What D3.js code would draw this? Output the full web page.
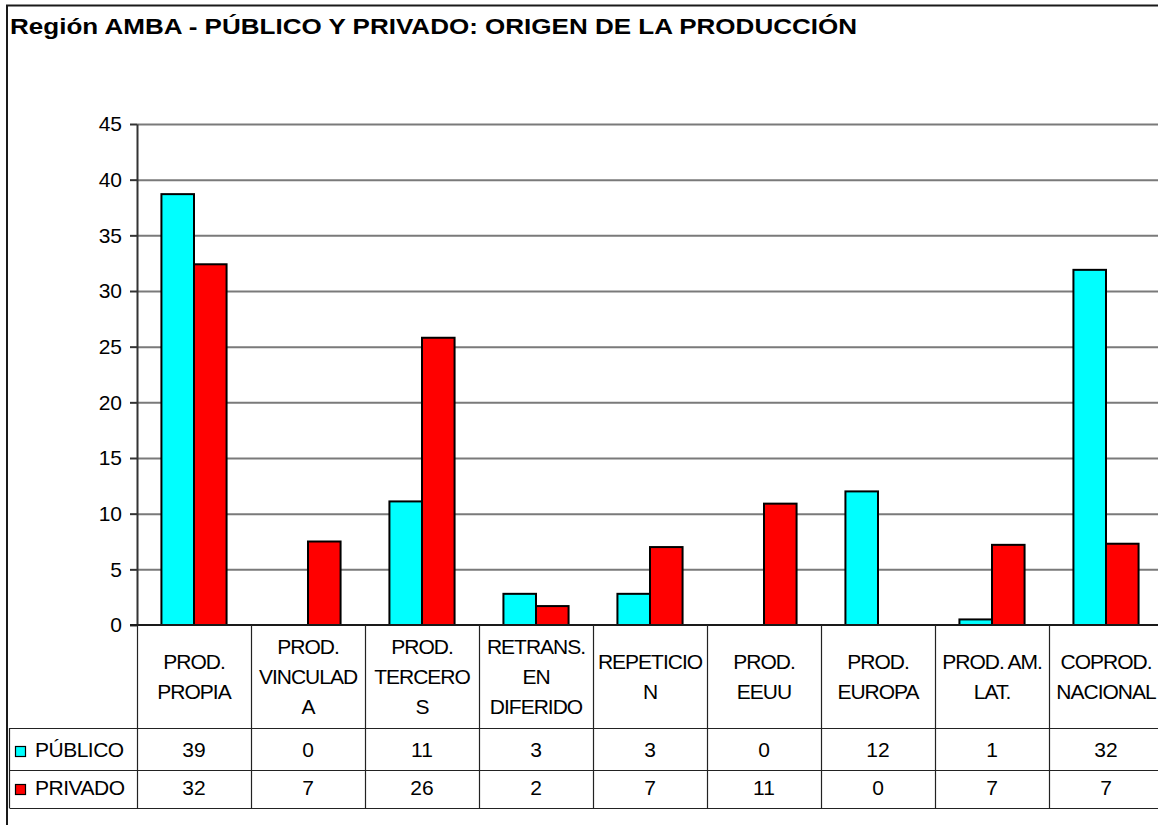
<!DOCTYPE html>
<html>
<head>
<meta charset="utf-8">
<script src="https://cdn.jsdelivr.net/npm/d3@7"></script>
<style>
  body { margin: 0; background: #ffffff; }
  svg text { font-family: "Liberation Sans", Arial, sans-serif; fill: #000; }
</style>
</head>
<body>
<div id="canvas"></div>
<script>
"use strict"

/* Data */
let categories = ["PROPIA", "VINCULADA", "TERCEROS", "DIFERIDO", "REPETICION", "EEUU", "EUROPA", "AMLAT", "COPROD"];
let categoryLines = [
    ["PROD.", "PROPIA"],
    ["PROD.", "VINCULAD", "A"],
    ["PROD.", "TERCERO", "S"],
    ["RETRANS.", "EN", "DIFERIDO"],
    ["REPETICIO", "N"],
    ["PROD.", "EEUU"],
    ["PROD.", "EUROPA"],
    ["PROD. AM.", "LAT."],
    ["COPROD.", "NACIONAL"]
];
let seriesNames = ["PÚBLICO", "PRIVADO"];
let publico = [38.7, 0, 11.1, 2.8, 2.8, 0, 12.0, 0.5, 31.9];
let privado = [32.4, 7.5, 25.8, 1.7, 7.0, 10.9, 0, 7.2, 7.3];
let publicoTable = ["39", "0", "11", "3", "3", "0", "12", "1", "32"];
let privadoTable = ["32", "7", "26", "2", "7", "11", "0", "7", "7"];
let yTicks = [0, 5, 10, 15, 20, 25, 30, 35, 40, 45];
let seriesColors = ["#00ffff", "#ff0000"];

let width = 1158;
let height = 825;

let drawing = d3.select("#canvas")
    .append("svg")
    .attr("width", width)
    .attr("height", height);

/* scales */
let xScale = d3.scaleBand()
    .domain(categories)
    .range([137, 137 + 9 * 114])
    .paddingInner(0)
    .paddingOuter(0);

let barWidth = xScale.bandwidth() / 3.5;

let seriesScale = d3.scaleBand()
    .domain(seriesNames)
    .range([xScale.bandwidth() / 2 - barWidth, xScale.bandwidth() / 2 + barWidth]);

let yScale = d3.scaleLinear()
    .domain([0, 45])
    .range([625, 124]);

/* outer frame */
let frame = drawing.append("rect")
    .attr("x", 7)
    .attr("y", 5.5)
    .attr("width", width + 20)
    .attr("height", height + 20)
    .attr("fill", "none")
    .attr("stroke", "#1a1a1a")
    .attr("stroke-width", 2);

/* title */
let title = drawing.append("text")
    .attr("x", 10)
    .attr("y", 34)
    .attr("font-size", 22)
    .attr("font-weight", "bold")
    .attr("textLength", 847)
    .attr("lengthAdjust", "spacingAndGlyphs")
    .text("Región AMBA - PÚBLICO Y PRIVADO: ORIGEN DE LA PRODUCCIÓN");

/* gridlines */
let grid = drawing.append("g")
    .attr("transform", "translate(137,0)")
    .call(d3.axisLeft(yScale)
        .tickValues(yTicks.filter(t => t > 0))
        .tickSize(-(width + 10))
        .tickFormat(""));
grid.select(".domain").remove();
grid.selectAll(".tick line")
    .attr("stroke", "#7a7a7a")
    .attr("stroke-width", 2);

/* y axis */
let yAxis = drawing.append("g")
    .attr("transform", "translate(137,0)")
    .call(d3.axisLeft(yScale)
        .tickValues(yTicks)
        .tickSize(7)
        .tickPadding(8)
        .tickSizeOuter(0));
yAxis.select(".domain")
    .attr("stroke", "#333")
    .attr("stroke-width", 2);
yAxis.selectAll(".tick line")
    .attr("stroke", "#333")
    .attr("stroke-width", 2);
yAxis.selectAll(".tick text")
    .attr("font-size", 21)
    .attr("font-family", "Liberation Sans, Arial, sans-serif")
    .attr("fill", "#000");

/* bars */
let series = [publico, privado];
let barGroups = drawing.selectAll("g.series")
    .data(series)
    .enter()
    .append("g")
    .attr("class", "series")
    .attr("fill", (d, i) => seriesColors[i]);

barGroups.selectAll("rect")
    .data((d, i) => d.map((v, j) => ({ value: v, cat: categories[j], name: seriesNames[i] })))
    .enter()
    .filter(d => d.value > 0)
    .append("rect")
    .attr("x", d => xScale(d.cat) + seriesScale(d.name))
    .attr("y", d => yScale(d.value))
    .attr("width", seriesScale.bandwidth())
    .attr("height", d => yScale(0) - yScale(d.value))
    .attr("stroke", "#000")
    .attr("stroke-width", 2);

/* x axis line at zero */
let zeroLine = drawing.append("line")
    .attr("x1", 130)
    .attr("x2", width + 10)
    .attr("y1", yScale(0))
    .attr("y2", yScale(0))
    .attr("stroke", "#1a1a1a")
    .attr("stroke-width", 2);

/* data table */
let tableTop = 625;
let rowCat = 728;
let rowPub = 770;
let rowPriv = 808;

let table = drawing.append("g")
    .attr("stroke", "#222")
    .attr("stroke-width", 1.2);

/* vertical lines */
table.selectAll("line.v")
    .data(categories)
    .enter()
    .append("line")
    .attr("x1", d => xScale(d) + 0.5)
    .attr("x2", d => xScale(d) + 0.5)
    .attr("y1", tableTop)
    .attr("y2", rowPriv);

table.append("line")
    .attr("x1", 9.5).attr("x2", 9.5)
    .attr("y1", rowCat).attr("y2", rowPriv);

/* horizontal lines */
table.selectAll("line.h")
    .data([rowCat, rowPub, rowPriv])
    .enter()
    .append("line")
    .attr("x1", 9.5)
    .attr("x2", width + 10)
    .attr("y1", d => d + 0.5)
    .attr("y2", d => d + 0.5);

/* category labels */
let lineHeight = 30;
let catLabels = drawing.selectAll("text.cat")
    .data(categoryLines)
    .enter()
    .append("text")
    .attr("class", "cat")
    .attr("text-anchor", "middle")
    .attr("font-size", 21)
    .attr("letter-spacing", -1.0);

catLabels.selectAll("tspan")
    .data((d, i) => d.map((line, k) => ({ line: line, k: k, n: d.length, cat: categories[i] })))
    .enter()
    .append("tspan")
    .attr("x", d => xScale(d.cat) + xScale.bandwidth() / 2)
    .attr("y", d => (tableTop + rowCat) / 2 + 7 + (d.k - (d.n - 1) / 2) * lineHeight)
    .text(d => d.line);

/* table values */
let tableRows = [publicoTable, privadoTable];
let rowBaselines = [757, 795];

tableRows.forEach(function (row, i) {
    drawing.selectAll("text.val" + i)
        .data(row)
        .enter()
        .append("text")
        .attr("class", "val" + i)
        .attr("text-anchor", "middle")
        .attr("font-size", 21)
        .attr("x", (d, j) => xScale(categories[j]) + xScale.bandwidth() / 2)
        .attr("y", rowBaselines[i])
        .text(d => d);

    /* legend key */
    drawing.append("rect")
        .attr("x", 15.5)
        .attr("y", rowBaselines[i] - 10.5)
        .attr("width", 10)
        .attr("height", 10)
        .attr("fill", seriesColors[i])
        .attr("stroke", "#000")
        .attr("stroke-width", 1.2);

    drawing.append("text")
        .attr("x", 35)
        .attr("y", rowBaselines[i])
        .attr("font-size", 21)
        .attr("letter-spacing", -0.5)
        .text(seriesNames[i]);
});
</script>
</body>
</html>
